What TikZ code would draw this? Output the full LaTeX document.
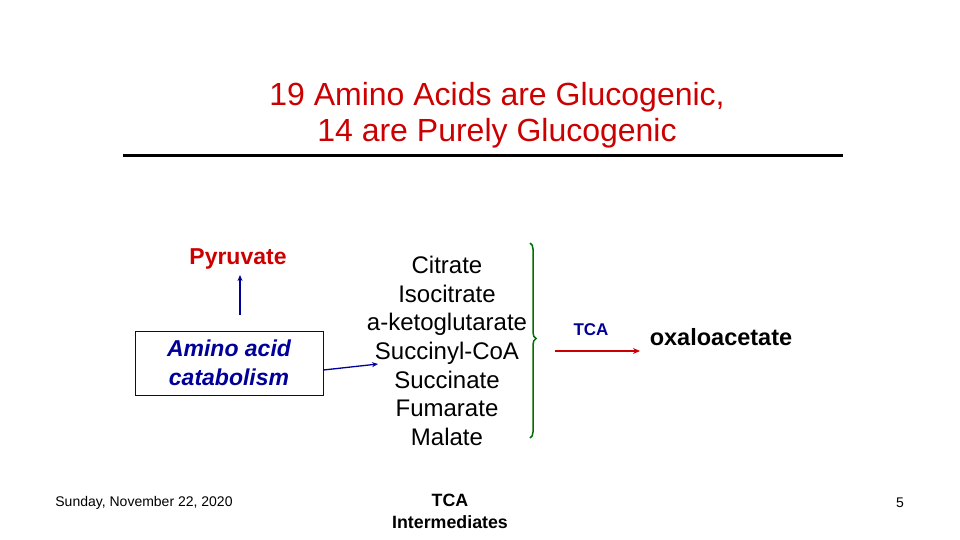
\documentclass[tikz,border=0pt]{standalone}
\usepackage{fontspec}
\setmainfont{Liberation Sans}
\usetikzlibrary{arrows.meta,decorations.pathreplacing}
\definecolor{tred}{RGB}{204,0,0}
\definecolor{tblue}{RGB}{0,0,153}
\definecolor{bgreen}{RGB}{0,110,0}
\begin{document}
\begin{tikzpicture}[x=1pt,y=-1pt,
  title/.style={text=tred,font=\fontsize{32}{36}\selectfont,align=center,inner sep=0},
  item/.style={font=\fontsize{24}{28.7}\selectfont,align=center,inner sep=0},
  small/.style={font=\fontsize{14}{16}\selectfont,inner sep=0},
  blueline/.style={draw=tblue,line width=1.3pt,-{Stealth[length=6pt,width=5pt]}}]
\useasboundingbox (0,0) rectangle (960,540);
\node[title] (t1) at (497,97) {19 Amino Acids are Glucogenic,};
\node[title] (t2) at (497,133) {14 are Purely Glucogenic};
\coordinate (rl) at (123,156);
\coordinate (rr) at (843,156);
\draw[line width=3pt] (rl) -- (rr);
\node[text=tred,font=\fontsize{23}{26}\selectfont\bfseries,inner sep=0] (pyr) at (238,259) {Pyruvate};
\node[draw=tblue,line width=1pt,minimum width=188pt,minimum height=64pt,inner sep=0,
  text=tblue,font=\fontsize{23}{29}\selectfont\bfseries\itshape,align=center] (box) at (229,363) {Amino acid\\catabolism};
\coordinate (ab) at (240,315);
\coordinate (at) at (240,275);
\draw[blueline] (ab) -- (at);
\node[item] (list) at (447,351) {Citrate\\Isocitrate\\a-ketoglutarate\\Succinyl-CoA\\Succinate\\Fumarate\\Malate};
\coordinate (ae) at (378,364);
\draw[blueline] (box.east |- 0,370) -- (ae);
\coordinate (bt) at (530,243);
\coordinate (bb) at (530,438);
\draw[bgreen,line width=1.5pt,decorate,decoration={brace,amplitude=6pt,aspect=0.49}] (bt) -- (bb);
\coordinate (rs) at (555,351);
\coordinate (re) at (640,351);
\draw[tred,line width=1.3pt,-{Stealth[length=7pt,width=6pt]}] (rs) -- (re);
\node[text=tblue,font=\fontsize{17}{20}\selectfont\bfseries,inner sep=0] (tca) at (591,330) {TCA};
\node[font=\fontsize{23.5}{26}\selectfont\bfseries,inner sep=0] (oxa) at (721,337) {oxaloacetate};
\node[font=\fontsize{17.8}{22}\selectfont\bfseries,align=center,inner sep=0] (tcai) at (450,511) {TCA\\Intermediates};
\node[small] (date) at (144,503) {Sunday, November 22, 2020};
\node[small] (pg) at (900,503) {5};
\end{tikzpicture}
\end{document}
